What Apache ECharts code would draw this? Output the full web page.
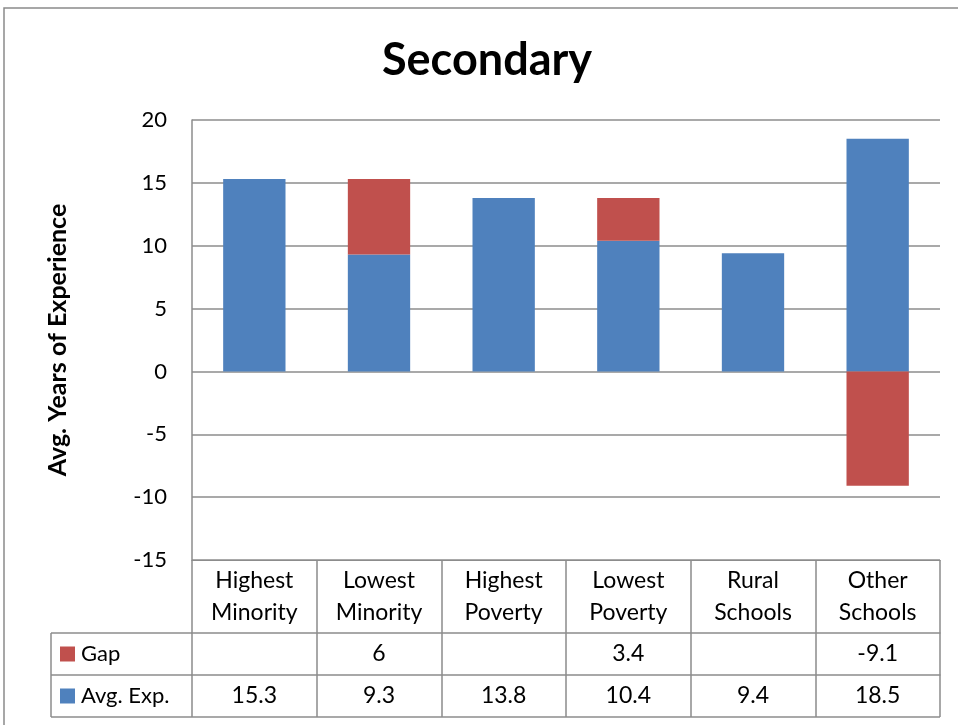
<!DOCTYPE html>
<html>
<head>
<meta charset="utf-8">
<title>Secondary</title>
<script src="https://cdn.jsdelivr.net/npm/echarts@6/dist/echarts.min.js"></script>
<style>
  html, body { margin: 0; padding: 0; background: #fff; }
  #chart { width: 958px; height: 725px; }
</style>
</head>
<body>
<div id="chart"></div>
<script>
// Categories (two-line labels) and the two stacked series
var categories = ['Highest\nMinority', 'Lowest\nMinority', 'Highest\nPoverty', 'Lowest\nPoverty', 'Rural\nSchools', 'Other\nSchools'];
var avgExp = [15.3, 9.3, 13.8, 10.4, 9.4, 18.5];
var gap = [null, 6, null, 3.4, null, -9.1];
var yTicks = { min: -15, max: 20, interval: 5 };

// Layout of the plot and the data table under it
var FONT = 'Lato, "Open Sans", sans-serif';
var G = { left: 192, top: 120, width: 748, height: 440 };
var gridBottom = G.top + G.height;      // -15 line / top of table
var rowCat = 73;                         // height of the category row
var rowH = 42;                           // height of each data row
var tableLeft = 51;
var lineColor = '#8c8c8c';
var BLUE = '#4F81BD', RED = '#C0504D';
var TABLE_FS = 23;

function fmt(v) { return v == null ? '' : String(v); }

var chart = echarts.init(document.getElementById('chart'));

var yGap = gridBottom + rowCat;          // top of Gap row
var yAvg = yGap + rowH;                  // top of Avg. Exp. row
var yEnd = yAvg + rowH;                  // bottom of table

var option = {
  animation: false,
  backgroundColor: '#fff',
  grid: { left: G.left, top: G.top, width: G.width, height: G.height, containLabel: false },
  legend: {
    data: ['Gap', 'Avg. Exp.'],
    orient: 'vertical',
    left: 60,
    top: yGap + 9,
    padding: 0,
    itemGap: 18,
    itemWidth: 15,
    itemHeight: 15,
    icon: 'rect',
    selectedMode: false,
    textStyle: { fontFamily: FONT, fontSize: 22, color: '#000', lineHeight: 24, padding: [0, 0, 0, 1] }
  },
  xAxis: [
    {
      type: 'category',
      data: categories,
      position: 'bottom',
      axisLine: { show: true, onZero: false, lineStyle: { color: lineColor, width: 1 } },
      axisTick: { show: true, length: rowCat + 2 * rowH, interval: 0, lineStyle: { color: lineColor, width: 1.5 } },
      axisLabel: { interval: 0, margin: 5, fontFamily: FONT, fontSize: TABLE_FS, lineHeight: 32, color: '#000' }
    },
    {
      type: 'category',
      data: gap.map(fmt),
      position: 'bottom',
      offset: rowCat,
      axisLine: { show: true, onZero: false, lineStyle: { color: lineColor, width: 1.5 } },
      axisTick: { show: false },
      axisLabel: { interval: 0, margin: rowH / 2, verticalAlign: 'middle', fontFamily: FONT, fontSize: TABLE_FS, color: '#000' }
    },
    {
      type: 'category',
      data: avgExp.map(fmt),
      position: 'bottom',
      offset: rowCat + rowH,
      axisLine: { show: true, onZero: false, lineStyle: { color: lineColor, width: 1.5 } },
      axisTick: { show: false },
      axisLabel: { interval: 0, margin: rowH / 2, verticalAlign: 'middle', fontFamily: FONT, fontSize: TABLE_FS, color: '#000' }
    }
  ],
  yAxis: {
    type: 'value',
    min: yTicks.min,
    max: yTicks.max,
    interval: yTicks.interval,
    name: 'Avg. Years of Experience',
    nameLocation: 'middle',
    nameRotate: 90,
    nameGap: 122,
    nameTextStyle: { fontFamily: FONT, fontSize: 25, fontWeight: 'bold', color: '#000' },
    axisLine: { show: true, lineStyle: { color: lineColor, width: 1.5 } },
    axisTick: { show: false },
    axisLabel: { margin: 25, fontFamily: FONT, fontSize: 22, color: '#000' },
    splitLine: { show: true, lineStyle: { color: lineColor, width: 1.5 } }
  },
  series: [
    {
      name: 'Avg. Exp.',
      type: 'bar',
      stack: 'total',
      xAxisIndex: 0,
      barWidth: '50%',
      itemStyle: { color: BLUE },
      data: avgExp
    },
    {
      name: 'Gap',
      type: 'bar',
      stack: 'total',
      xAxisIndex: 0,
      barWidth: '50%',
      itemStyle: { color: RED },
      data: gap
    }
  ],
  graphic: [
    // outer chart frame
    { type: 'rect', silent: true, z: 0, shape: { x: 4, y: 8, width: 1000, height: 800 },
      style: { fill: null, stroke: '#8a8a8a', lineWidth: 1.5 } },
    // title
    { type: 'text', x: 487, y: 60, silent: true,
      style: { text: 'Secondary', fontFamily: FONT, fontWeight: 'bold', fontSize: 45, fill: '#000',
               textAlign: 'center', textVerticalAlign: 'middle' } },
    // row-header column of the data table
    { type: 'line', silent: true, shape: { x1: tableLeft, y1: yGap, x2: G.left, y2: yGap },
      style: { stroke: lineColor, lineWidth: 1.5 } },
    { type: 'line', silent: true, shape: { x1: tableLeft, y1: yAvg, x2: G.left, y2: yAvg },
      style: { stroke: lineColor, lineWidth: 1.5 } },
    { type: 'line', silent: true, shape: { x1: tableLeft, y1: yEnd, x2: G.left + G.width, y2: yEnd },
      style: { stroke: lineColor, lineWidth: 1.5 } },
    { type: 'line', silent: true, shape: { x1: tableLeft, y1: yGap, x2: tableLeft, y2: yEnd },
      style: { stroke: lineColor, lineWidth: 1.5 } }
  ]
};

chart.setOption(option);
</script>
</body>
</html>
